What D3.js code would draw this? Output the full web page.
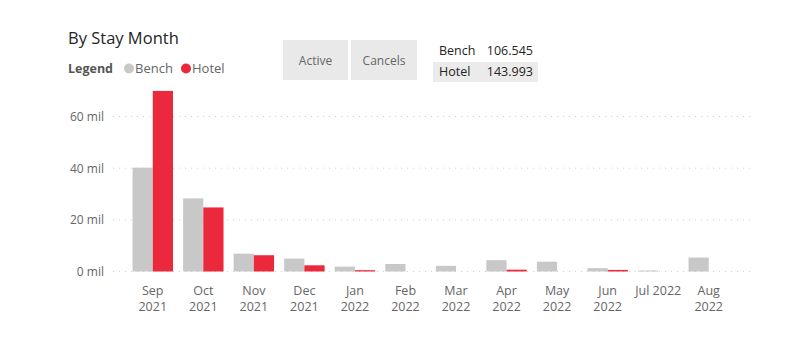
<!DOCTYPE html>
<html><head><meta charset="utf-8">
<script src="https://cdn.jsdelivr.net/npm/d3@7"></script>
<style>body{margin:0;background:#fff;font-family:"Open Sans","Segoe UI",sans-serif;}</style>
</head><body>
<svg id="c" width="800" height="340"></svg>
<script>
const categories = ["Sep 2021","Oct 2021","Nov 2021","Dec 2021","Jan 2022","Feb 2022","Mar 2022","Apr 2022","May 2022","Jun 2022","Jul 2022","Aug 2022"];
const benchValues = [40.2, 28.3, 6.9, 5.0, 1.9, 2.9, 2.2, 4.4, 3.8, 1.3, 0.4, 5.4];
const hotelValues = [69.9, 24.8, 6.3, 2.4, 0.5, 0, 0, 0.7, 0, 0.6, 0, 0];
const seriesNames = ["Bench","Hotel"];
const seriesColors = ["#c8c8c8","#eb283c"];
const yTicks = [0, 20, 40, 60];
const tableRows = [["Bench","106.545"],["Hotel","143.993"]];
const buttons = ["Active","Cancels"];

const svg = d3.select("#c");
const x = d3.scaleBand().domain(categories).range([127.5, 734]).paddingInner(0.2).paddingOuter(0.1);
const x1 = d3.scaleBand().domain(seriesNames).range([0, x.bandwidth()]);
const y = d3.scaleLinear().domain([0, 60]).range([271.5, 116.5]);

// title
svg.append("text").attr("x",68).attr("y",44).attr("font-size",16.5).attr("fill","#252423").text("By Stay Month");
// legend
svg.append("text").attr("x",68).attr("y",73).attr("font-size",12.5).attr("font-weight","bold").attr("fill","#555").text("Legend");
const lg = [{x:129},{x:186}];
seriesNames.forEach((s,i)=>{
  svg.append("circle").attr("cx",lg[i].x).attr("cy",68.5).attr("r",5).attr("fill",seriesColors[i]);
  svg.append("text").attr("x",lg[i].x+6).attr("y",73).attr("font-size",13).attr("fill","#666").text(s);
});
// buttons
const bx = [283, 351], bw = [65, 66];
buttons.forEach((b,i)=>{
  svg.append("rect").attr("x",bx[i]).attr("y",40).attr("width",bw[i]).attr("height",40).attr("fill","#e9e9e9");
  svg.append("text").attr("x",bx[i]+bw[i]/2).attr("y",64.5).attr("text-anchor","middle").attr("font-size",12).attr("fill","#666").text(b);
});
// table
svg.append("rect").attr("x",433).attr("y",62).attr("width",105).attr("height",20).attr("fill","#ebebeb");
tableRows.forEach((r,i)=>{
  svg.append("text").attr("x",439).attr("y",55+i*21).attr("font-size",12.5).attr("fill","#252423").text(r[0]);
  svg.append("text").attr("x",533).attr("y",55+i*21).attr("text-anchor","end").attr("font-size",12.5).attr("fill","#252423").text(r[1]);
});

// grid
const yAxis = d3.axisLeft(y).tickValues(yTicks).tickFormat(d=>d+" mil").tickSize(0).tickPadding(9);
const gy = svg.append("g").attr("transform","translate(113,0)").call(yAxis);
gy.select(".domain").remove();
gy.selectAll("text").attr("font-size",12).attr("fill","#666").attr("font-family","'Open Sans',sans-serif");
svg.append("g").selectAll("line").data(yTicks).join("line")
  .attr("x1",113).attr("x2",750).attr("y1",d=>y(d)).attr("y2",d=>y(d))
  .attr("stroke","#d0d0d0").attr("stroke-width",1).attr("stroke-dasharray","1,5");

// bars
const data = categories.map((c,i)=>({c, vals:[benchValues[i],hotelValues[i]]}));
const groups = svg.append("g").selectAll("g").data(data).join("g").attr("transform",d=>`translate(${x(d.c)},0)`);
groups.selectAll("rect").data(d=>d.vals.map((v,j)=>({v,s:seriesNames[j],j}))).join("rect")
  .attr("x",d=>x1(d.s)).attr("width",x1.bandwidth())
  .attr("y",d=>y(d.v)).attr("height",d=>y(0)-y(d.v))
  .attr("fill",d=>seriesColors[d.j]);

// x axis labels
const xl = svg.append("g");
categories.forEach(c=>{
  const cx = x(c)+x.bandwidth()/2;
  const parts = c==="Jul 2022" ? [c] : c.split(" ");
  parts.forEach((p,i)=>xl.append("text").attr("x",cx).attr("y",295+i*16)
    .attr("text-anchor","middle").attr("font-size",12.5).attr("fill","#666").text(p));
});
</script>
</body></html>
